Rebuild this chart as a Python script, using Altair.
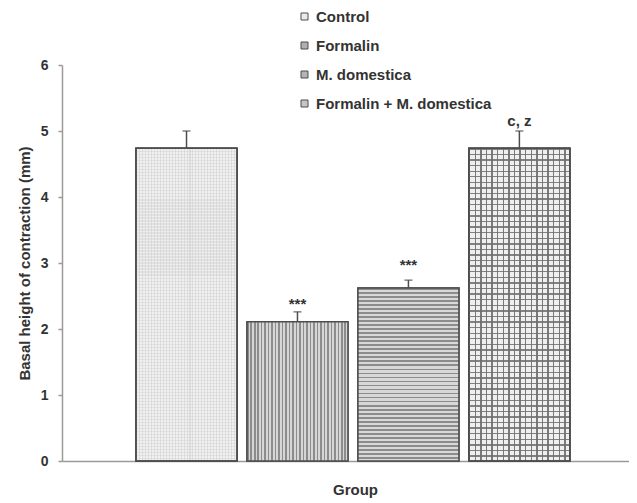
import altair as alt
import pandas as pd

# ---- data ----
groups = ["Control", "Formalin", "M. domestica", "Formalin + M. domestica"]
values = [4.74, 2.11, 2.62, 4.74]
errors = [0.26, 0.15, 0.12, 0.26]
annot_text = ["", "***", "***", "c, z"]
annot_y = [None, 2.31, 2.9, 5.08]
y_ticks = [0, 1, 2, 3, 4, 5, 6]

df = pd.DataFrame({
    "group": groups,
    "value": values,
    "err": errors,
    "annot": annot_text,
    "annot_y": annot_y,
})
df["upper"] = df["value"] + df["err"]

FONT = "Liberation Sans"
TXT = "#333333"
AX = "#9a9a9a"
EDGE = "#4d4d4d"


def stripes(n, dark, light, frac, vertical=True):
    stops = []
    for i in range(n):
        a = i / n
        b = (i + frac) / n
        c = (i + 1) / n
        stops += [
            {"offset": a, "color": dark},
            {"offset": b, "color": dark},
            {"offset": b, "color": light},
            {"offset": c, "color": light},
        ]
    if vertical:
        return alt.LinearGradient(gradient="linear", stops=stops, x1=0, x2=1, y1=0, y2=0)
    return alt.LinearGradient(gradient="linear", stops=stops, x1=0, x2=0, y1=0, y2=1)


x_enc = alt.X(
    "group:N",
    sort=groups,
    scale=alt.Scale(paddingInner=0.09, paddingOuter=0.6, align=0.556),
    axis=alt.Axis(
        title="Group", labels=False, ticks=False, domainColor=AX, domainWidth=1.5,
        titleFontSize=15, titleFontWeight="bold", titleColor=TXT,
        titleX=293, titleY=33, titleBaseline="alphabetic",
    ),
)
y_enc = alt.Y(
    "value:Q",
    scale=alt.Scale(domain=[0, 6], nice=False, zero=True),
    axis=alt.Axis(
        title="Basal height of contraction (mm)", values=y_ticks, format="d", grid=False,
        domainColor=AX, domainWidth=1.5, tickColor=AX, tickWidth=1.5, tickSize=4,
        labelFontSize=14, labelFontWeight="bold", labelColor=TXT, labelPadding=10,
        titleFontSize=15, titleFontWeight="bold", titleColor=TXT, titlePadding=8,
    ),
)

base = alt.Chart(df)

bars = base.mark_bar(stroke=EDGE, strokeWidth=1.5).encode(
    x=x_enc,
    y=y_enc,
    color=alt.Color(
        "group:N",
        sort=groups,
        scale=alt.Scale(domain=groups, range=["#ebebeb", "#b0b0b0", "#b4b4b4", "#c6c6c6"]),
        legend=alt.Legend(
            title=None, orient="none", legendX=235, legendY=-56, padding=0,
            symbolType="square", symbolSize=49, symbolStrokeColor=EDGE, symbolStrokeWidth=1,
            labelFontSize=15, labelFontWeight="bold", labelColor=TXT, labelFont=FONT,
            labelOffset=4, rowPadding=13, labelLimit=400,
        ),
    ),
)


def overlay(name, fill):
    return base.transform_filter(alt.datum.group == name).mark_bar(
        fill=fill, stroke=EDGE, strokeWidth=1.5
    ).encode(x=x_enc, y=y_enc)


ov_control_v = overlay("Control", stripes(34, "#dedede", "#f0f0f0", 0.35, True))
ov_control_h = overlay("Control", stripes(104, "rgba(205,205,205,0.4)", "rgba(0,0,0,0)", 0.4, False))
ov_formalin = overlay("Formalin", stripes(29, "#8c8c8c", "#d6d6d6", 0.45, True))
ov_mdom = overlay("M. domestica", stripes(43, "#8c8c8c", "#d8d8d8", 0.45, False))
ov_fm_v = overlay("Formalin + M. domestica", stripes(18, "#7a7a7a", "#efefef", 0.25, True))
ov_fm_h = overlay("Formalin + M. domestica", stripes(56, "rgba(110,110,110,0.85)", "rgba(0,0,0,0)", 0.25, False))

err_rule = base.mark_rule(color=EDGE, strokeWidth=1.5).encode(
    x=x_enc, y="value:Q", y2="upper:Q"
)
err_cap = base.mark_tick(color=EDGE, thickness=1.5, size=8).encode(
    x=x_enc, y="upper:Q"
)
labels = base.transform_filter(alt.datum.annot != "").mark_text(
    fontSize=15, fontWeight="bold", color=TXT, baseline="alphabetic", font=FONT
).encode(x=x_enc, y="annot_y:Q", text="annot:N")

chart = alt.layer(
    bars, ov_control_v, ov_control_h, ov_formalin, ov_mdom, ov_fm_v, ov_fm_h,
    err_rule, err_cap, labels,
).properties(
    width=567,
    height=396,
    autosize=alt.AutoSizeParams(type="none"),
    padding={"left": 54, "top": 57, "right": 0, "bottom": 38},
    background="white",
).configure(
    font=FONT,
).configure_view(
    stroke=None,
)

chart.save("out.html", embed_options={"renderer": "svg", "actions": False})
